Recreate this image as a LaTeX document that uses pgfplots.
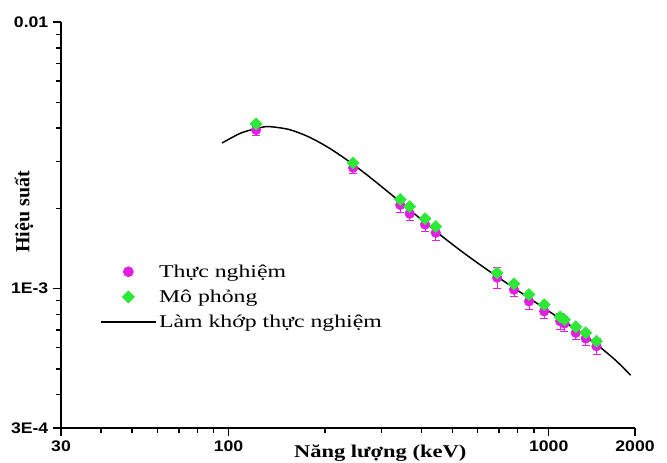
\documentclass[border=0pt]{standalone}
\usepackage{fontspec}
\setmainfont{Liberation Serif}[FakeStretch=1.32]
\newfontfamily\xlabfont{Liberation Serif}[FakeStretch=1.25]
\newfontfamily\ticksfont{Liberation Sans}[FakeStretch=1.15]
\newfontfamily\ylabfont{Liberation Serif}
\usepackage{pgfplots}
\pgfplotsset{compat=1.18}
\definecolor{mag}{RGB}{225,30,225}
\definecolor{grn}{RGB}{45,232,55}
\begin{document}
\begin{tikzpicture}
\begin{axis}[
  at={(0pt,0pt)}, anchor=south west,
  scale only axis, width=430.5pt, height=304.5pt,
  xmode=log, ymode=log,
  xmin=30, xmax=1860, ymin=3e-4, ymax=1e-2,
  axis x line=bottom, axis y line=left,
  axis line style={-, line width=1.1pt},
  tick align=outside, major tick length=6pt, minor tick length=3.5pt,
  every tick/.style={black, line width=1pt},
  xtick={30,100,1000,1860}, xticklabels={30,100,1000,2000},
  minor xtick={40,50,60,70,80,90,200,300,400,500,600,700,800,900},
  ytick={3e-4,1e-3,1e-2}, yticklabels={3E-4,1E-3,0.01},
  minor ytick={4e-4,5e-4,6e-4,7e-4,8e-4,9e-4,2e-3,3e-3,4e-3,5e-3,6e-3,7e-3,8e-3,9e-3},
  ticklabel style={font=\ticksfont\bfseries\fontsize{11.5}{13}\selectfont},
  /pgf/number format/assume math mode=true,
  clip=false,
  legend cell align=left,
  legend style={draw=none, fill=none, at={(rel axis cs:0.068,0.41)}, anchor=north west,
    font=\fontsize{13.5}{15}\selectfont, inner sep=0pt, row sep=4pt},
]
\addplot[only marks, mark=*, mark size=3.6pt, color=mag,
  legend image code/.code={\path[draw=none,fill=none] (0pt,0pt) -- (41pt,0pt); \fill[mag] (20.5pt,0pt) circle (3.8pt);},
  error bars/.cd, y dir=both, y explicit,
  error bar style={mag, line width=0.6pt},
  error mark options={rotate=90, mag, mark size=3pt, line width=0.6pt}]
  coordinates {
  (122,3.94e-3) +- (0,1.8e-4)
  (245,2.84e-3) +- (0,1.4e-4)
  (344,2.06e-3) +- (0,1.2e-4)
  (368,1.91e-3) +- (0,1.1e-4)
  (411,1.74e-3) +- (0,1.0e-4)
  (444,1.62e-3) +- (0,1.0e-4)
  (690,1.10e-3) +- (0,1.0e-4)
  (779,9.91e-4) +- (0,6e-5)
  (868,8.96e-4) +- (0,6e-5)
  (968,8.22e-4) +- (0,5e-5)
  (1086,7.55e-4) +- (0,5e-5)
  (1120,7.40e-4) +- (0,5e-5)
  (1215,6.83e-4) +- (0,4e-5)
  (1305,6.50e-4) +- (0,4e-5)
  (1410,6.08e-4) +- (0,4e-5)
  };
\addlegendentry{Thực nghiệm}
\addplot[only marks, mark=square*, mark size=3.2pt, mark options={rotate=45}, color=grn,
  legend image code/.code={\path[draw=none,fill=none] (0pt,0pt) -- (41pt,0pt); \fill[grn] (20.5pt,4.6pt) -- (25.1pt,0pt) -- (20.5pt,-4.6pt) -- (15.9pt,0pt) -- cycle;}]
  coordinates {
  (122,4.15e-3) (245,2.96e-3) (344,2.16e-3) (368,2.03e-3) (411,1.83e-3)
  (444,1.71e-3) (690,1.145e-3) (779,1.042e-3) (868,9.5e-4) (968,8.71e-4)
  (1086,7.83e-4) (1120,7.65e-4) (1215,7.19e-4) (1305,6.83e-4) (1410,6.35e-4)
  };
\addlegendentry{Mô phỏng}
\addplot[black, line width=1.1pt, smooth,
  legend image code/.code={\draw[black, line width=1.1pt] (0pt,0pt) -- (41pt,0pt);}]
  coordinates {
  (95.5,3.516e-3) (109.6,3.837e-3) (125.9,4.018e-3) (134.9,4.050e-3)
  (154.9,3.951e-3) (177.8,3.713e-3) (204.2,3.393e-3) (234.4,3.039e-3)
  (269.2,2.684e-3) (309.0,2.350e-3) (354.8,2.049e-3) (407.4,1.785e-3)
  (467.7,1.561e-3) (537.0,1.374e-3) (616.6,1.219e-3) (707.9,1.087e-3)
  (812.8,9.72e-4) (933.3,8.70e-4) (1071.5,7.79e-4) (1230.3,6.96e-4)
  (1412.5,6.17e-4) (1621.8,5.37e-4) (1803,4.73e-4)
  };
\addlegendentry{Làm khớp thực nghiệm}
\node[anchor=base, font=\xlabfont\bfseries\fontsize{13.5}{15}\selectfont] at ([yshift=-21.75pt]rel axis cs:0.556,0) {Năng lượng (keV)};
\node[rotate=90, font=\ylabfont\bfseries\fontsize{15}{17}\selectfont] at ([xshift=-27.75pt]rel axis cs:0,0.532) {Hiệu suất};
\end{axis}
\pgfresetboundingbox
\useasboundingbox (-45.75pt,-25.5pt) rectangle (454.5pt,321pt);
\end{tikzpicture}
\end{document}
